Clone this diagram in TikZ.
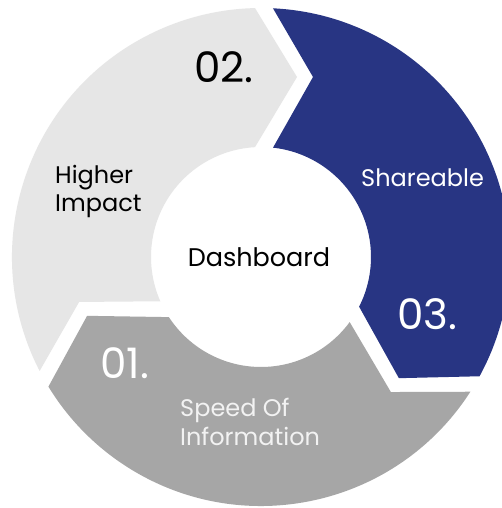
\documentclass[tikz,border=0pt]{standalone}
\usepackage{fontspec}
\setmainfont{Poppins}
\definecolor{lgray}{HTML}{E6E6E6}
\definecolor{dgray}{HTML}{A6A6A6}
\definecolor{navy}{HTML}{283583}
\definecolor{offwhite}{HTML}{F2F2F2}
\begin{document}
\begin{tikzpicture}[x=1pt,y=1pt,
  lbl/.style={inner sep=0pt,anchor=base west,font=\fontsize{24}{28}\selectfont},
  num/.style={inner sep=0pt,anchor=base west,font=\fontsize{42}{48}\selectfont},
  arrowseg/.pic={
    \fill[#1] (87.24:249) arc[start angle=87.24, end angle=-28.62, radius=249]
      -- ([rotate=-120]36,180) -- (-26.87:110)
      arc[start angle=-26.87, end angle=83.73, radius=110]
      -- (52,180) -- cycle;
  }]
\useasboundingbox (-261,-251) rectangle (241,257);
\clip (-261,-251) rectangle (241,257);
\fill[white] (-261,-251) rectangle (241,257);
\pic[rotate=0] {arrowseg=navy};
\pic[rotate=-120] {arrowseg=dgray};
\pic[rotate=120] {arrowseg=lgray};
\node[lbl,anchor=base,black,font=\fontsize{25.5}{30}\selectfont] (dash) at (-2,-9.7) {Dashboard};
\node[lbl,black] (hi1) at (-206,73) {Higher};
\node[lbl,black] (hi2) at (-206,45) {Impact};
\node[lbl,white] (sh) at (100,70) {Shareable};
\node[lbl,offwhite] (sp1) at (-81,-159.7) {Speed Of};
\node[lbl,offwhite] (sp2) at (-81,-188) {Information};
\node[num,black] (n2) at (-67,174) {02.};
\node[num,white] (n3) at (136,-72) {03.};
\node[num,white] (n1) at (-161,-121) {01.};
\end{tikzpicture}
\end{document}
